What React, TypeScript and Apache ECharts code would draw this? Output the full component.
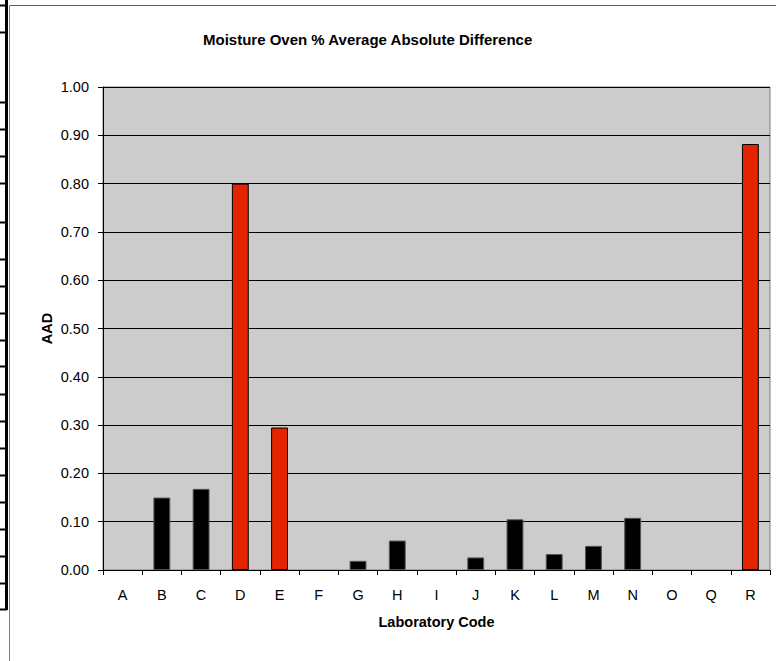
import React, { useEffect, useRef } from "react";
import * as echarts from "echarts";

const categories = ["A", "B", "C", "D", "E", "F", "G", "H", "I", "J", "K", "L", "M", "N", "O", "Q", "R"];
const aadValues = [0, 0.15, 0.168, 0.8, 0.295, 0, 0.019, 0.061, 0, 0.026, 0.105, 0.033, 0.05, 0.108, 0, 0, 0.882];
const flagged = ["D", "E", "R"];
const yTicks = [0, 0.1, 0.2, 0.3, 0.4, 0.5, 0.6, 0.7, 0.8, 0.9, 1.0];

const FONT = "'Liberation Sans', Arial, sans-serif";
const RED = "#E42300";

// spreadsheet row borders visible on the left margin (decoration)
const rowLines = [5, 32, 102, 129, 156, 183, 222, 259, 286, 313, 340, 366, 394, 421, 448, 475, 502, 529, 556, 583, 609];

export default function App() {
  const ref = useRef<HTMLDivElement>(null);
  useEffect(() => {
    if (!ref.current) return;
    const chart = echarts.init(ref.current, null, { renderer: "svg" });
    const data = aadValues.map((v, i) => {
      const isRed = flagged.includes(categories[i]);
      return {
        value: v,
        itemStyle: {
          color: isRed ? RED : "#000000",
          borderColor: v === 0 ? "transparent" : isRed ? "#000000" : "#555555",
          borderWidth: v === 0 ? 0 : 1,
        },
      };
    });
    const graphics: any[] = [
      { type: "rect", shape: { x: 0, y: 0, width: 776, height: 661 }, style: { fill: "#ffffff" }, z: -10, silent: true },
      { type: "line", shape: { x1: 6.5, y1: 0, x2: 6.5, y2: 610 }, style: { stroke: "#000", lineWidth: 3 }, silent: true },
      { type: "line", shape: { x1: 9.5, y1: 5.5, x2: 9.5, y2: 661 }, style: { stroke: "#808080", lineWidth: 1 }, silent: true },
      { type: "line", shape: { x1: 9.5, y1: 5.5, x2: 776, y2: 5.5 }, style: { stroke: "#606060", lineWidth: 1 }, silent: true },
      ...rowLines.map((y) => ({
        type: "line",
        shape: { x1: 0, y1: y + 0.5, x2: 7, y2: y + 0.5 },
        style: { stroke: "#000", lineWidth: 2 },
        silent: true,
      })),
    ];
    chart.setOption({
      animation: false,
      backgroundColor: "#ffffff",
      title: {
        text: "Moisture Oven % Average Absolute Difference",
        left: 198,
        top: 27,
        textStyle: { fontFamily: FONT, fontSize: 15, fontWeight: "bold", color: "#000" },
      },
      graphic: graphics,
      grid: {
        left: 103,
        right: 6,
        top: 87,
        bottom: 91,
        show: true,
        backgroundColor: "#CCCCCC",
        borderColor: "#808080",
        borderWidth: 1,
      },
      xAxis: {
        type: "category",
        data: categories,
        name: "Laboratory Code",
        nameLocation: "middle",
        nameGap: 44,
        nameTextStyle: { fontFamily: FONT, fontSize: 14.5, fontWeight: "bold", color: "#000" },
        axisLine: { lineStyle: { color: "#000", width: 1 } },
        axisTick: { show: true, alignWithLabel: false, length: 5, lineStyle: { color: "#000" } },
        axisLabel: { fontFamily: FONT, fontSize: 14.5, color: "#000", margin: 17 },
        splitLine: { show: false },
      },
      yAxis: {
        type: "value",
        min: 0,
        max: 1,
        interval: 0.1,
        name: "AAD",
        nameLocation: "middle",
        nameGap: 49,
        nameMoveOverlap: false,
        nameRotate: 90,
        nameTextStyle: { fontFamily: FONT, fontSize: 14.5, fontWeight: "bold", color: "#000" },
        axisLine: { show: true, lineStyle: { color: "#000", width: 1 } },
        axisTick: { show: true, length: 5, lineStyle: { color: "#000" } },
        axisLabel: {
          fontFamily: FONT,
          fontSize: 14.5,
          color: "#000",
          margin: 14,
          formatter: (v: number) => {
            const t = yTicks.find((x) => Math.abs(x - v) < 1e-9);
            return (t ?? v).toFixed(2);
          },
        },
        splitLine: { show: true, lineStyle: { color: "#000", width: 1 } },
      },
      series: [
        {
          type: "bar",
          data,
          barWidth: "43%",
        },
      ],
    });
    return () => chart.dispose();
  }, []);
  return <div ref={ref} style={{ width: 776, height: 661, position: "absolute", left: 0, top: 0 }} />;
}
